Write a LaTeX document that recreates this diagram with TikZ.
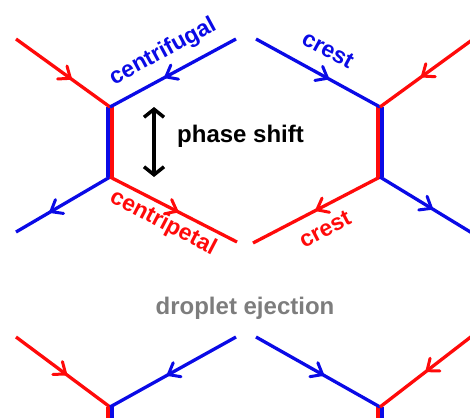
\documentclass[tikz,border=0pt]{standalone}
\usepackage{fontspec}
\setmainfont{Liberation Sans}
\usetikzlibrary{arrows.meta,decorations.markings}
\definecolor{wred}{RGB}{255,10,10}
\definecolor{wblue}{RGB}{10,10,230}
\definecolor{wgray}{RGB}{125,125,125}
\tikzset{
  wave/.style={line width=3.3pt},
  vert/.style={line width=4.3pt},
  midarrow/.style={postaction={decorate,decoration={markings,
     mark=at position #1 with {\draw[line width=3pt,line cap=round,line join=miter]
        (-9pt,8pt) -- (1pt,0pt) -- (-9pt,-8pt);}}}},
  lbl/.style={font=\bfseries\fontsize{23}{23}\selectfont, inner sep=0pt},
}
\begin{document}
\begin{tikzpicture}[x=1pt,y=-1pt]
\useasboundingbox (0,0) rectangle (470,417);
\coordinate (LT) at (110,107);
\coordinate (LB) at (110,177);
\coordinate (RT) at (380,107);
\coordinate (RB) at (380,177);
\coordinate (a1) at (16,39);
\coordinate (a2) at (236,39);
\coordinate (a3) at (16,232);
\coordinate (a4) at (237,242);
\coordinate (b1) at (256,39);
\coordinate (b2) at (472,40);
\coordinate (b3) at (253,243);
\coordinate (b4) at (472,233);
% vertical segments
\draw[vert,wblue] (108,107) -- (108,177);
\draw[vert,wred] (112,107) -- (112,177);
\draw[vert,wred] (378,107) -- (378,177);
\draw[vert,wblue] (382,107) -- (382,177);
% left arms
\draw[wave,wred,midarrow=0.57] (a1) -- (LT);
\draw[wave,wblue,midarrow=0.55] (a2) -- (LT);
\draw[wave,wblue,midarrow=0.62] (LB) -- (a3);
\draw[wave,wred,midarrow=0.52] (LB) -- (a4);
% right arms
\draw[wave,wblue,midarrow=0.57] (b1) -- (RT);
\draw[wave,wred,midarrow=0.53] (b2) -- (RT);
\draw[wave,wred,midarrow=0.49] (RB) -- (b3);
\draw[wave,wblue,midarrow=0.55] (RB) -- (b4);
% labels
\node[lbl,wblue,rotate=28.4] (cf) at (163,52) {centrifugal};
\node[lbl,wblue,rotate=-28.4] (cb) at (328,50) {crest};
\node[lbl,wred,rotate=-27.5] (cp) at (163,223) {centripetal};
\node[lbl,wred,rotate=27.5] (cr) at (325,229) {crest};
% phase shift
\coordinate (pt) at (154,107);
\coordinate (pb) at (154,177);
\draw[line width=3.5pt,{Straight Barb[length=8pt,width=20pt]}-{Straight Barb[length=8pt,width=20pt]}] (pt) -- (pb);
\node[lbl,font=\bfseries\fontsize{24}{24}\selectfont,anchor=west] (ps) at (177,136) {phase shift};
% droplet ejection
\node[lbl,font=\bfseries\fontsize{24}{24}\selectfont,wgray] (de) at (245,308) {droplet ejection};
% lower part
\coordinate (DL) at (110,407);
\coordinate (DR) at (380,407);
\coordinate (c1) at (16,337);
\coordinate (c2) at (236,337);
\coordinate (c3) at (256,337);
\coordinate (c4) at (472,336);
\draw[vert,wred] (108,407) -- (108,420);
\draw[vert,wblue] (112,407) -- (112,420);
\draw[vert,wred] (378,407) -- (378,420);
\draw[vert,wblue] (382,407) -- (382,420);
\draw[wave,wred,midarrow=0.52] (c1) -- (DL);
\draw[wave,wblue,midarrow=0.53] (c2) -- (DL);
\draw[wave,wblue,midarrow=0.53] (c3) -- (DR);
\draw[wave,wred,midarrow=0.48] (c4) -- (DR);
\end{tikzpicture}
\end{document}
